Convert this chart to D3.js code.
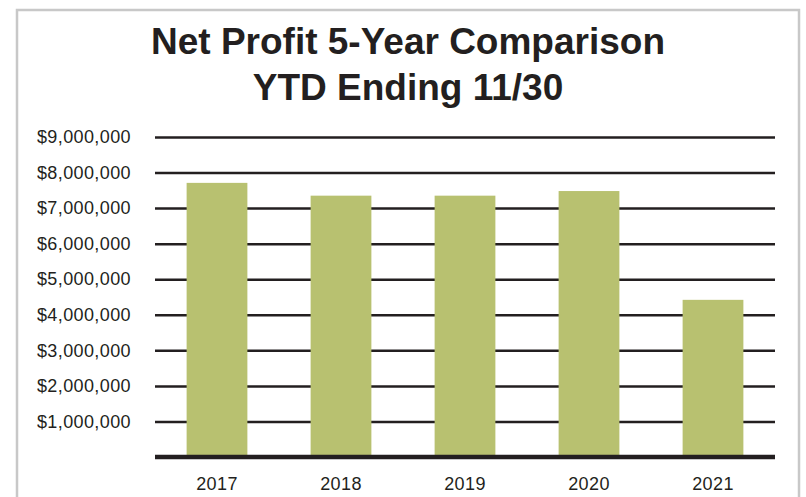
<!DOCTYPE html>
<html>
<head>
<meta charset="utf-8">
<script src="https://cdn.jsdelivr.net/npm/d3@7"></script>
<style>
  html, body { margin: 0; padding: 0; background: #fff; }
  svg { display: block; font-family: "Liberation Sans", Arial, Helvetica, sans-serif; }
</style>
</head>
<body>
<svg id="chart" width="806" height="497"></svg>
<script>
// Net profit, YTD ending 11/30, five years
const years = ["2017", "2018", "2019", "2020", "2021"];
const profit = [7710000, 7350000, 7350000, 7480000, 4420000];
const yTicks = [1000000, 2000000, 3000000, 4000000, 5000000, 6000000, 7000000, 8000000, 9000000];
const titleLines = ["Net Profit 5-Year Comparison", "YTD Ending 11/30"];

const ink = "#231f20";
const svg = d3.select("#chart");
const W = 806, H = 497;
const m = { t: 137, r: 31, b: 40, l: 155 };

// outer frame (runs off the bottom of the picture)
svg.append("rect")
  .attr("x", 17).attr("y", 10)
  .attr("width", 782).attr("height", 520)
  .attr("fill", "none").attr("stroke", "#c8c8c8").attr("stroke-width", 2.5);

svg.append("text")
  .attr("x", 408).attr("y", 54)
  .attr("text-anchor", "middle").attr("fill", ink)
  .style("font-size", "37px").style("font-weight", 700)
  .selectAll("tspan").data(titleLines).join("tspan")
  .attr("x", 408).attr("dy", (d, i) => i ? 46 : 0)
  .text(d => d);

const x = d3.scaleBand()
  .domain(years)
  .range([m.l, W - m.r])
  .paddingInner(0.51).paddingOuter(0.255);

const y = d3.scaleLinear().domain([0, 9000000]).range([H - m.b, m.t]);

svg.append("g").attr("transform", `translate(${m.l},0)`)
  .call(d3.axisLeft(y).tickValues(yTicks).tickFormat(d3.format("$,.0f"))
    .tickSizeInner(-(W - m.l - m.r)).tickSizeOuter(0).tickPadding(24))
  .call(g => g.select(".domain").remove())
  .call(g => g.selectAll("line").attr("stroke", ink).attr("stroke-width", 2.5))
  .call(g => g.selectAll("text").attr("fill", ink)
    .style("font-size", "18px").style("letter-spacing", "0.4px")
    .style("font-family", "\"Liberation Sans\", Arial, sans-serif"));

svg.selectAll("rect.bar").data(profit).join("rect")
  .attr("class", "bar")
  .attr("x", (d, i) => x(years[i]))
  .attr("y", d => y(d))
  .attr("width", x.bandwidth())
  .attr("height", d => y(0) - y(d))
  .attr("fill", "#b8c170");

// heavy baseline
svg.append("line")
  .attr("x1", m.l).attr("x2", W - m.r)
  .attr("y1", y(0)).attr("y2", y(0))
  .attr("stroke", ink).attr("stroke-width", 4.5);

svg.append("g").attr("transform", `translate(0,${y(0)})`)
  .call(d3.axisBottom(x).tickSize(0).tickPadding(20))
  .call(g => g.select(".domain").remove())
  .call(g => g.selectAll("text").attr("fill", ink)
    .style("font-size", "18px").style("letter-spacing", "0.4px")
    .style("font-family", "\"Liberation Sans\", Arial, sans-serif"));
</script>
</body>
</html>
